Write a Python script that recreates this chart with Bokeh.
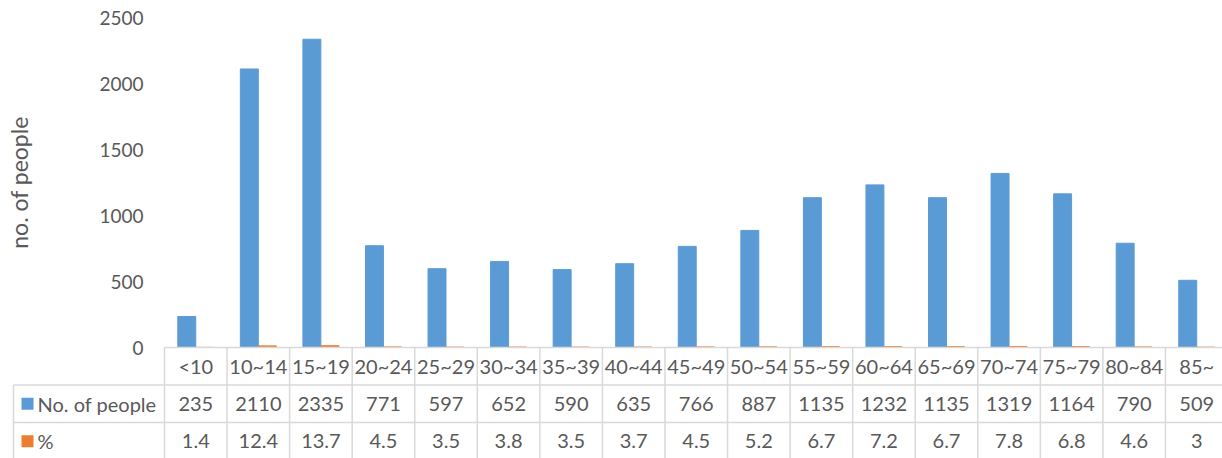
import math
from bokeh.plotting import figure
from bokeh.models import Range1d, ColumnDataSource
from bokeh.core.properties import value
from bokeh.embed import file_html
from bokeh.resources import INLINE

# Age groups and the two series shown in the chart and its data table
age_groups = ["<10", "10~14", "15~19", "20~24", "25~29", "30~34", "35~39", "40~44",
              "45~49", "50~54", "55~59", "60~64", "65~69", "70~74", "75~79", "80~84", "85~"]
people = [235, 2110, 2335, 771, 597, 652, 590, 635, 766, 887, 1135, 1232, 1135,
          1319, 1164, 790, 509]
percent = [1.4, 12.4, 13.7, 4.5, 3.5, 3.8, 3.5, 3.7, 4.5, 5.2, 6.7, 7.2, 6.7,
           7.8, 6.8, 4.6, 3]
y_ticks = [0, 500, 1000, 1500, 2000, 2500]
series_names = ["No. of people", "%"]
y_title = "no. of people"

# Layout constants (pixels)
W, H = 1222, 458
LEFT = 164          # where the category columns begin
COL = 62.56         # width of one category column
TABLE_LEFT = 13     # where the legend column of the table begins
BASE = 347          # pixel row of value 0 / top of the table
TOP = 17            # pixel row of the highest tick
ROW = 37.5          # height of one table row
TICK_GAP = 21       # gap between tick labels and the first column
FONT = "Lato"
TXT = "#595959"
GRID = "#d9d9d9"
BLUE = "#5B9BD5"
ORANGE = "#ED7D31"
BAR_W = 0.287
OFF = 0.144

n = len(age_groups)
ymax = y_ticks[-1]
unit = (BASE - TOP) / ymax              # pixels per person

x_range = Range1d(-LEFT / COL, (W - LEFT) / COL)
y_range = Range1d(-(H - BASE) / unit, BASE / unit)

p = figure(width=W, height=H, output_backend="svg", toolbar_location=None,
           x_range=x_range, y_range=y_range,
           min_border_left=0, min_border_right=0, min_border_top=0,
           min_border_bottom=0)
p.extra_y_ranges = {"table": Range1d((H - BASE) / ROW, -BASE / ROW)}
p.outline_line_color = None
p.axis.visible = False
p.grid.visible = False

# ---- bars ----
centers = [i + 0.5 for i in range(n)]
src = ColumnDataSource(dict(
    xb=[c - OFF for c in centers], xo=[c + OFF for c in centers],
    people=people, pct=percent))
p.vbar(x="xb", top="people", bottom=0, width=BAR_W, source=src, color=BLUE)
p.vbar(x="xo", top="pct", bottom=0, width=BAR_W, source=src, color=ORANGE)

# ---- value axis labels and title ----
p.text(x=[-TICK_GAP / COL] * len(y_ticks), y=y_ticks, text=[str(v) for v in y_ticks],
       text_font=value(FONT), text_font_size="19px", text_color=TXT,
       text_align="right", text_baseline="middle")
p.text(x=[(18 - LEFT) / COL], y=[ymax / 2], text=[y_title], angle=math.pi / 2,
       text_font=value(FONT), text_font_size="23px", text_color=TXT,
       text_align="center", text_baseline="middle")

# ---- data table beneath the chart ----
x_end = (W - LEFT) / COL
xl = (TABLE_LEFT - LEFT) / COL
hx0 = [0, xl, xl]
hx1 = [x_end + 1] * 3
hy = [0, 1, 2]
p.segment(x0=hx0, y0=hy, x1=hx1, y1=hy, line_color=GRID, line_width=1.5,
          y_range_name="table")
vx = list(range(n)) + [xl]
vy0 = [0] * n + [1]
vy1 = [3.5] * (n + 1)
p.segment(x0=vx, y0=vy0, x1=vx, y1=vy1, line_color=GRID, line_width=1.5,
          y_range_name="table")

txt_kw = dict(text_font=value(FONT), text_font_size="20px", text_color=TXT,
              text_align="center", text_baseline="middle", y_range_name="table")
p.text(x=centers, y=[0.5] * n, text=age_groups, **txt_kw)
p.text(x=centers, y=[1.5] * n, text=[str(v) for v in people], **txt_kw)
p.text(x=centers, y=[2.5] * n, text=[f"{v:g}" for v in percent], **txt_kw)

# legend keys inside the table
p.scatter(x=[(27 - LEFT) / COL] * 2, y=[1.5, 2.5], marker="square", size=12,
          color=[BLUE, ORANGE], line_color=None, y_range_name="table")
p.text(x=[(37 - LEFT) / COL] * 2, y=[1.5, 2.5], text=series_names,
       text_font=value(FONT), text_font_size="20px", text_color=TXT,
       text_align="left", text_baseline="middle", y_range_name="table")

open("out.html", "w").write(file_html(p, INLINE))
